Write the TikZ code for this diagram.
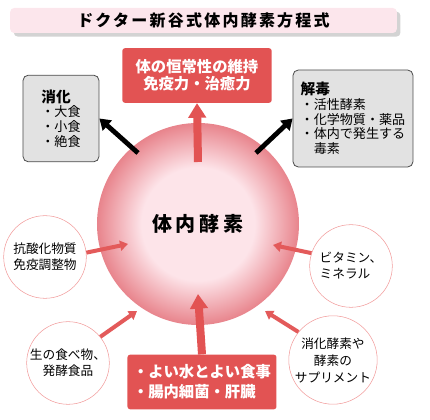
\documentclass[tikz,border=0pt]{standalone}
\usepackage{fontspec}
\setmainfont{Noto Sans CJK JP}
\usetikzlibrary{
  positioning,
  arrows.meta,
  shadows
}
\definecolor{enzred}{HTML}{E25353}
\definecolor{enzpale}{HTML}{FDE4E9}
\definecolor{enzrim}{HTML}{E8848C}
\definecolor{banner}{HTML}{FCE6EC}
\definecolor{boxgray}{HTML}{E2E2E2}
\definecolor{ringpink}{HTML}{F29C9C}
\definecolor{arrowpink}{HTML}{E35A5A}
\pgfdeclareradialshading{enzglow}{\pgfpoint{0bp}{0bp}}{%
  color(0bp)=(enzpale); color(14bp)=(enzpale); color(25bp)=(enzrim); color(50bp)=(enzrim)}

\begin{document}
\begin{tikzpicture}[
  x=0.75pt, y=-0.75pt,
  redbox/.style={fill=enzred, text=white, rounded corners=2pt, align=center,
                 font=\fontsize{11.5}{13}\selectfont\bfseries,
                 minimum width=112pt, minimum height=41pt},
  graybox/.style={draw=black!70, fill=boxgray, rounded corners=4pt, line width=0.6pt,
                  align=left, font=\fontsize{9.8}{11}\selectfont},
  side/.style={circle, draw=ringpink, fill=white, minimum size=62pt, inner sep=0pt,
               align=center, font=\fontsize{9.5}{12}\selectfont},
  bigarr/.style={-{Triangle[width=13pt, length=11pt]}, line width=6pt, enzred},
  darr/.style={-{Triangle[width=10pt, length=8pt]}, line width=3.6pt, black},
  parr/.style={-{Triangle[width=7.5pt, length=6pt]}, line width=3pt, arrowpink}
]
  \useasboundingbox (0,0) rectangle (430,420);

  % Title
  \node[fill=banner, rounded corners=3pt, drop shadow={opacity=0.35},
        minimum width=290pt, minimum height=18.75pt,
        font=\fontsize{12}{14}\selectfont\bfseries\addfontfeatures{LetterSpace=14}]
    (title) at (203.5,20.5) {ドクター新谷式体内酵素方程式};

  % Enzymes in the body
  \node[circle, shading=enzglow, minimum size=151.5pt, inner sep=0pt,
        font=\fontsize{15}{17}\selectfont\bfseries\addfontfeatures{LetterSpace=20}]
    (core) at (198,224) {体内酵素};

  % Outputs
  \node[redbox] (vital) at (197,75.5) {体の恒常性の維持\\免疫力・治癒力};
  \node[graybox, minimum width=57pt, minimum height=65pt] (digest) at (61,118.5)
    {{\fontsize{11}{13}\selectfont\bfseries 消化}\\・大食\\・小食\\・絶食};
  \node[graybox, minimum width=90pt, minimum height=72.75pt] (detox) at (353,118.5)
    {{\fontsize{11}{13}\selectfont\bfseries 解毒}\\・活性酵素\\・化学物質・薬品\\・体内で発生する\\　毒素};

  % Inputs
  \node[redbox, align=left, font=\fontsize{11.5}{15}\selectfont\bfseries,
        minimum width=111.75pt] (diet) at (202,382)
    {・よい水とよい食事\\・腸内細菌・肝臓};
  \node[side] (anti) at (45,257) {抗酸化物質\\免疫調整物};
  \node[side, align=left] (vit) at (351,266) {ビタミン、\\ミネラル};
  \node[side] (raw) at (68,363) {生の食べ物、\\発酵食品};
  \node[side, font=\fontsize{9.5}{12.75}\selectfont] (supp) at (333,360)
    {消化酵素や\\酵素の\\サプリメント};

  % Arrow ends inside the circle
  \coordinate (uptail) at (198,162);
  \coordinate (dietin) at (198,294);
  \coordinate (digtail) at (138,153);
  \coordinate (dettail) at (256,153);
  \coordinate (antiin) at (128,244);
  \coordinate (vitin) at (273,245);
  \coordinate (rawin) at (137,311);
  \coordinate (suppin) at (265,311);

  % Arrows
  \draw[bigarr] (uptail) -- (vital.south);
  \draw[bigarr] (diet.north) -- (dietin);
  \draw[darr] (digtail) -- (digest.east);
  \draw[darr] (dettail) -- (detox.west);
  \draw[parr] (anti.6) -- (antiin);
  \draw[parr] (vit.162) -- (vitin);
  \draw[parr] (raw.39) -- (rawin);
  \draw[parr] (supp.141) -- (suppin);
\end{tikzpicture}
\end{document}
